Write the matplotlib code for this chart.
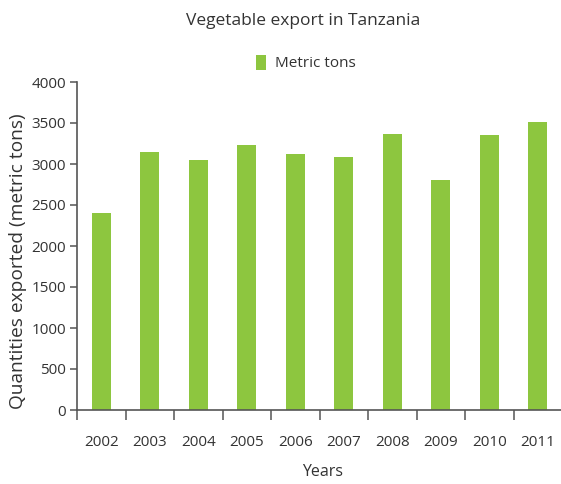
import matplotlib
matplotlib.use("Agg")
import matplotlib.pyplot as plt
from matplotlib.patches import Patch
import numpy as np

years = ["2002", "2003", "2004", "2005", "2006", "2007", "2008", "2009", "2010", "2011"]
metric_tons = [2400, 3150, 3050, 3230, 3120, 3080, 3360, 2800, 3350, 3510]
y_ticks = [0, 500, 1000, 1500, 2000, 2500, 3000, 3500, 4000]

plt.rcParams['font.family'] = ['Open Sans', 'DejaVu Sans']
bar_color = '#8dc63f'
spine_color = '#555555'
text_color = '#333333'

W, H = 561, 484
fig = plt.figure(figsize=(W/100, H/100), dpi=100)
ax = fig.add_axes([77/W, (H-410)/H, (562-77)/W, (410-82)/H])

x = np.arange(len(years))
ax.bar(x, metric_tons, width=0.4, color=bar_color, zorder=2)

ax.set_xlim(-0.5, len(years) - 0.5)
ax.set_ylim(0, 4000)
ax.set_yticks(y_ticks)
ax.set_yticklabels([str(v) for v in y_ticks], fontsize=11, color=text_color)

ax.set_xticks(x)
ax.set_xticklabels(years, fontsize=11, color=text_color)
ax.tick_params(axis='x', which='major', length=0, pad=18)
ax.set_xticks(np.arange(-0.5, len(years), 1.0), minor=True)
ax.tick_params(axis='x', which='minor', length=7, width=1.1, color=spine_color, direction='out')
ax.tick_params(axis='y', length=5, width=1.1, color=spine_color, direction='out', pad=3)

for s in ['top', 'right']:
    ax.spines[s].set_visible(False)
for s in ['left', 'bottom']:
    ax.spines[s].set_color(spine_color)
    ax.spines[s].set_linewidth(1.2)

fig.text(323/W, 1 - 472/H, "Years", ha='center', va='center', fontsize=11.5, color=text_color)
fig.text(18/W, 1 - 261/H, "Quantities exported (metric tons)", ha='center', va='center',
         rotation=90, fontsize=13.8, color=text_color)

fig.text(303/W, 1 - 21/H, "Vegetable export in Tanzania", ha='center', va='center',
         fontsize=12.5, color=text_color)

handles = [Patch(facecolor=bar_color, edgecolor='none', label='Metric tons')]
fig.legend(handles=handles, loc='center', bbox_to_anchor=(306/W, 1 - 63/H),
           frameon=False, fontsize=11, handlelength=0.6, handleheight=1.2,
           handletextpad=0.6, labelcolor=text_color)

fig.savefig("out.png", dpi=100)
